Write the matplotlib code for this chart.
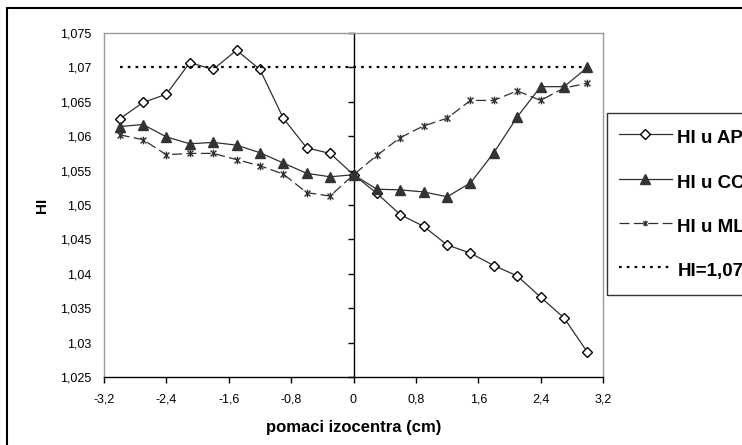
import matplotlib
matplotlib.use("Agg")
import matplotlib.pyplot as plt
from matplotlib.ticker import FuncFormatter, MultipleLocator, NullFormatter
from matplotlib.patches import Rectangle
from matplotlib.path import Path

x = [-3.0, -2.7, -2.4, -2.1, -1.8, -1.5, -1.2, -0.9, -0.6, -0.3, 0.0,
     0.3, 0.6, 0.9, 1.2, 1.5, 1.8, 2.1, 2.4, 2.7, 3.0]
hi_ap = [1.0625, 1.0649, 1.0661, 1.0707, 1.0697, 1.0725, 1.0697, 1.0626, 1.0583, 1.0575, 1.0544,
         1.0517, 1.0486, 1.0469, 1.0442, 1.0430, 1.0412, 1.0397, 1.0366, 1.0336, 1.0286]
hi_cc = [1.0614, 1.0617, 1.0599, 1.0589, 1.0591, 1.0587, 1.0576, 1.0561, 1.0546, 1.0541, 1.0544,
         1.0523, 1.0522, 1.0519, 1.0512, 1.0532, 1.0576, 1.0628, 1.0672, 1.0672, 1.0700]
hi_ml = [1.0602, 1.0595, 1.0573, 1.0575, 1.0575, 1.0566, 1.0557, 1.0545, 1.0518, 1.0513, 1.0544,
         1.0572, 1.0598, 1.0615, 1.0626, 1.0652, 1.0652, 1.0666, 1.0652, 1.0670, 1.0677]
hi_ref = [1.07] * len(x)
labels = ["HI u AP", "HI u CC", "HI u ML", "HI=1,07"]

plt.rcParams['font.family'] = ['Liberation Sans', 'DejaVu Sans']

# Excel-style star marker: an "x" with a vertical stroke
star = Path([(-1, -1), (1, 1), (-1, 1), (1, -1), (0, -1.3), (0, 1.3)],
            [Path.MOVETO, Path.LINETO, Path.MOVETO, Path.LINETO, Path.MOVETO, Path.LINETO])

fig = plt.figure(figsize=(7.42, 4.45), dpi=100)
ax = fig.add_axes([104/742, 1-377/445, 499/742, 344/445])

lc = '#303030'
ax.plot(x, hi_ap, color=lc, lw=0.9, marker='D', ms=5.5, mfc='white', mec='black', mew=1.0, label=labels[0])
ax.plot(x, hi_cc, color=lc, lw=0.9, marker='^', ms=7.5, mfc='#333333', mec='#333333', label=labels[1])
ax.plot(x, hi_ml, color=lc, lw=0.9, ls=(0, (8, 3.5)), marker=star, ms=5.5, mfc='none', mec='#333333', mew=1.0, label=labels[2])
ax.plot(x, hi_ref, color='black', lw=1.6, ls=(0, (1.2, 2.3)), label=labels[3])

ax.set_xlim(-3.2, 3.2)
ax.set_ylim(1.025, 1.075)
ax.xaxis.set_major_locator(MultipleLocator(0.8))
ax.yaxis.set_major_locator(MultipleLocator(0.005))

def comma(v, pos):
    s = ('%.3f' % v).rstrip('0').rstrip('.')
    if s in ('-0', ''):
        s = '0'
    return s.replace('.', ',')

ax.xaxis.set_major_formatter(FuncFormatter(comma))
ax.yaxis.set_major_formatter(FuncFormatter(comma))
ax.tick_params(axis='x', direction='out', length=4, width=1, labelsize=9, pad=8, color='black')
ax.tick_params(axis='y', length=0, labelsize=9, pad=9)

for s in ['left', 'top', 'right']:
    ax.spines[s].set_color('#999999')
    ax.spines[s].set_linewidth(1.0)
ax.spines['bottom'].set_color('black')
ax.spines['bottom'].set_linewidth(1.0)

sec = ax.secondary_yaxis(0.5)
sec.yaxis.set_major_locator(MultipleLocator(0.005))
sec.yaxis.set_major_formatter(NullFormatter())
sec.yaxis.set_ticks_position('left')
sec.tick_params(axis='y', direction='out', length=4, width=1, color='black',
                labelleft=False, labelright=False)
for s in sec.spines:
    sec.spines[s].set_color('black')
    sec.spines[s].set_linewidth(1.0)

ax.set_xlabel('pomaci izocentra (cm)', fontsize=12, fontweight='bold', labelpad=10)
ax.set_ylabel('HI', fontsize=11, fontweight='bold', labelpad=8)

leg = fig.legend(loc='upper left', bbox_to_anchor=(607/742, 1-113/445), frameon=True,
                 fancybox=False, edgecolor='black', prop={'weight': 'bold', 'size': 13.5},
                 labelspacing=1.08, handlelength=2.8, handleheight=1.6, handletextpad=0.3,
                 borderpad=0.65, borderaxespad=0)
leg.get_frame().set_linewidth(1.0)
hs = leg.legend_handles
hs[0].set_markersize(5)
hs[1].set_markersize(7.5)
hs[2].set_markersize(4)

fig.patches.append(Rectangle((7/742, -0.1), 1.2, 1.1 - 8/445, transform=fig.transFigure,
                             fill=False, edgecolor='black', lw=1.5))

fig.savefig('out.png', dpi=100)
